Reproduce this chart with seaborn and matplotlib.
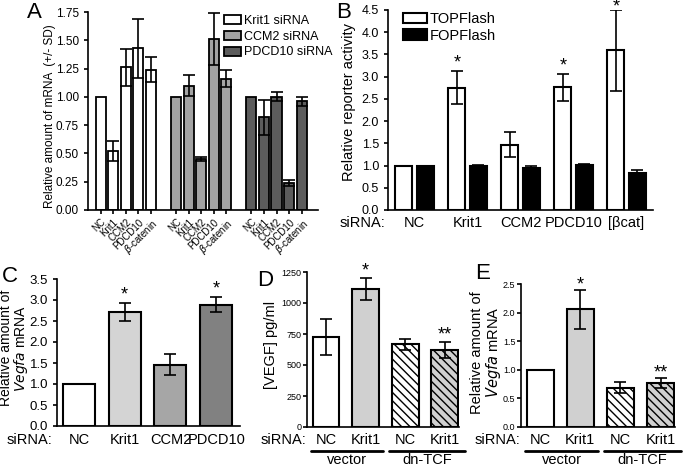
import numpy as np
import pandas as pd
import matplotlib
matplotlib.use('Agg')
import matplotlib.pyplot as plt
import seaborn as sns
from matplotlib.patches import Patch
from matplotlib.ticker import FormatStrFormatter
from matplotlib.transforms import ScaledTranslation

# ---- data ----
# A: relative mRNA after each siRNA
a_targets = ['NC', 'Krit1', 'CCM2', 'PDCD10', r'$\beta$-catenin']
a_groups = ['Krit1 siRNA', 'CCM2 siRNA', 'PDCD10 siRNA']
a_krit1 = [1.00, 0.52, 1.26, 1.43, 1.24]
a_krit1_sd = [0, 0.09, 0.16, 0.26, 0.11]
a_ccm2 = [1.00, 1.10, 0.45, 1.51, 1.16]
a_ccm2_sd = [0, 0.095, 0.02, 0.23, 0.075]
a_pdcd10 = [1.00, 0.82, 1.00, 0.24, 0.96]
a_pdcd10_sd = [0, 0.155, 0.04, 0.025, 0.04]
a_colors = ['white', '#a3a3a3', '#5c5c5c']

# B: TOPFlash / FOPFlash reporter
b_sirna = ['NC', 'Krit1', 'CCM2', 'PDCD10', '[βcat]']
b_reporters = ['TOPFlash', 'FOPFlash']
b_top = [1.0, 2.75, 1.47, 2.76, 3.59]
b_top_sd = [0, 0.37, 0.28, 0.30, 0.91]
b_fop = [1.0, 1.0, 0.95, 1.01, 0.83]
b_fop_sd = [0, 0.02, 0.03, 0.03, 0.06]
b_marks = ['', '*', '', '*', '*']

# C: Vegfa mRNA
c_sirna = ['NC', 'Krit1', 'CCM2', 'PDCD10']
c_vals = [1.0, 2.71, 1.46, 2.89]
c_sd = [0, 0.21, 0.25, 0.17]
c_colors = ['white', '#d4d4d4', '#a6a6a6', '#818181']
c_marks = ['', '*', '', '*']

# D / E: vector vs dn-TCF
de_sirna = ['NC', 'Krit1', 'NC', 'Krit1']
de_construct = ['vector', 'vector', 'dn-TCF', 'dn-TCF']
d_vals = [725, 1115, 668, 620]
d_sd = [145, 90, 45, 65]
e_vals = [1.0, 2.06, 0.69, 0.77]
e_sd = [0, 0.34, 0.10, 0.08]
de_marks = ['', '*', '', '**']
de_colors = ['white', '#d0d0d0', 'white', '#d0d0d0']
de_hatch = ['', '', '\\\\\\\\', '\\\\\\\\']

# ---- style ----
sns.set_theme(style="ticks")
plt.rcParams['font.family'] = ['Liberation Sans', 'DejaVu Sans']
for k in ['text.color', 'axes.labelcolor', 'xtick.color', 'ytick.color', 'axes.edgecolor']:
    plt.rcParams[k] = 'black'
plt.rcParams['axes.linewidth'] = 1.2
plt.rcParams['xtick.major.width'] = 1.2
plt.rcParams['ytick.major.width'] = 1.2
plt.rcParams['hatch.linewidth'] = 1.0

fig = plt.figure(figsize=(6.83, 4.66), dpi=100)
W, H = 683, 466


def px_axes(left, top, right, bottom):
    return fig.add_axes([left / W, 1 - bottom / H, (right - left) / W, (bottom - top) / H])


def down(ax, px):
    # x in data, y pushed px pixels under the x axis
    return ax.get_xaxis_transform() + ScaledTranslation(0, -px / 100, fig.dpi_scale_trans)


def corner(ax, dx, dy):
    # offset from the lower-left corner of the axes, in pixels
    return ax.transAxes + ScaledTranslation(dx / 100, -dy / 100, fig.dpi_scale_trans)


def add_errorbars(ax, xs, vals, sds):
    xs, vals, sds = np.asarray(xs), np.asarray(vals), np.asarray(sds)
    m = sds > 0
    ax.errorbar(xs[m], vals[m], yerr=sds[m], fmt='none', ecolor='black',
                elinewidth=1.2, capsize=4, capthick=1.2, zorder=5)


def add_marks(ax, xs, vals, sds, marks, off, size=12, cap=None):
    for x, v, s, mk in zip(xs, vals, sds, marks):
        if mk:
            y = v + s + off
            if cap is not None:
                y = min(y, cap)
            ax.text(x, y, mk, ha='center', va='center', fontsize=size, clip_on=False)


def bar_centers(ax):
    return [p.get_x() + p.get_width() / 2 for c in ax.containers for p in c.patches
            if hasattr(p, 'get_width')]


# ================= A =================
axA = px_axes(88, 12, 318, 210)
rows = []
for gi, (g, vals, sds) in enumerate(zip(a_groups, [a_krit1, a_ccm2, a_pdcd10],
                                        [a_krit1_sd, a_ccm2_sd, a_pdcd10_sd])):
    for ti, (t, v, s) in enumerate(zip(a_targets, vals, sds)):
        rows.append({'pos': gi * 6 + ti, 'group': g, 'target': t, 'value': v, 'sd': s})
dfA = pd.DataFrame(rows)
sns.barplot(data=dfA, x='pos', y='value', hue='group', hue_order=a_groups, palette=a_colors,
            native_scale=True, dodge=False, width=0.8, edgecolor='black', linewidth=1.3,
            errorbar=None, legend=False, ax=axA)
add_errorbars(axA, dfA['pos'], dfA['value'], dfA['sd'])
axA.set_xlim(-1.0, 17.3)
axA.set_ylim(0, 1.75)
axA.set_yticks(np.arange(0, 1.76, 0.25))
axA.yaxis.set_major_formatter(FormatStrFormatter('%.2f'))
axA.set_xticks(dfA['pos'])
axA.set_xticklabels(dfA['target'], rotation=45, ha='right', va='top',
                    rotation_mode='anchor', fontsize=7)
axA.tick_params(axis='y', labelsize=8.5, length=3)
axA.tick_params(axis='x', length=3, pad=2)
axA.set_xlabel('')
axA.set_ylabel('Relative amount of mRNA  (+/- SD)', fontsize=8.5)
axA.yaxis.set_label_coords(-0.139, 0.475)
hA = [Patch(facecolor=c, edgecolor='black', linewidth=1.3) for c in a_colors]
axA.legend(hA, a_groups, loc='upper left', bbox_to_anchor=(0.59, 0.985), frameon=False,
           fontsize=9, handlelength=1.4, handleheight=0.75, handletextpad=0.2,
           labelspacing=0.3, borderpad=0, borderaxespad=0)
sns.despine(ax=axA)

# ================= B =================
axB = px_axes(388, 10, 653, 210)
dfB = pd.DataFrame({'siRNA': b_sirna * 2,
                    'reporter': [b_reporters[0]] * 5 + [b_reporters[1]] * 5,
                    'value': b_top + b_fop,
                    'sd': b_top_sd + b_fop_sd})
sns.barplot(data=dfB, x='siRNA', y='value', hue='reporter', hue_order=b_reporters,
            palette=['white', 'black'], width=0.8, gap=0.2, edgecolor='black', linewidth=1.5,
            errorbar=None, legend=False, ax=axB)
xb = bar_centers(axB)
add_errorbars(axB, xb, b_top + b_fop, b_top_sd + b_fop_sd)
add_marks(axB, xb[:5], b_top, b_top_sd, b_marks, 0.18, size=13, cap=4.56)
axB.set_xlim(-0.5, 4.5)
axB.set_ylim(0, 4.5)
axB.set_yticks(np.arange(0, 4.51, 0.5))
axB.yaxis.set_major_formatter(FormatStrFormatter('%.1f'))
axB.tick_params(axis='y', labelsize=9, length=3)
axB.tick_params(axis='x', labelsize=10.5, length=0, pad=4)
axB.set_xlabel('')
axB.set_ylabel('Relative reporter activity', fontsize=10.5)
axB.yaxis.set_label_coords(-0.121, 0.54)
axB.text(0, 0, 'siRNA:', transform=corner(axB, -3, 13), ha='right', va='center', fontsize=10.5)
hB = [Patch(facecolor=c, edgecolor='black', linewidth=1.5) for c in ['white', 'black']]
axB.legend(hB, b_reporters, loc='upper left', bbox_to_anchor=(0.055, 0.99), frameon=False,
           fontsize=10.5, handlelength=1.7, handleheight=0.75, handletextpad=0.15,
           labelspacing=0.2, borderpad=0, borderaxespad=0)
sns.despine(ax=axB)

# ================= C =================
axC = px_axes(57, 279, 240, 426)
dfC = pd.DataFrame({'siRNA': c_sirna, 'value': c_vals})
sns.barplot(data=dfC, x='siRNA', y='value', hue='siRNA', palette=c_colors, width=0.7,
            edgecolor='black', linewidth=1.5, errorbar=None, legend=False, ax=axC)
xc = bar_centers(axC)
add_errorbars(axC, xc, c_vals, c_sd)
add_marks(axC, xc, c_vals, c_sd, c_marks, 0.2, size=13)
axC.set_xlim(-0.48, 3.52)
axC.set_ylim(0, 3.5)
axC.set_yticks(np.arange(0, 3.51, 0.5))
axC.yaxis.set_major_formatter(FormatStrFormatter('%.1f'))
axC.tick_params(axis='y', labelsize=9.5, length=3)
axC.tick_params(axis='x', labelsize=10.5, length=0, pad=5)
axC.set_xlabel('')
axC.set_ylabel('Relative amount of\n$\\it{Vegfa}$ mRNA', fontsize=10, linespacing=0.95)
axC.yaxis.set_label_coords(-0.145, 0.53)
axC.text(0, 0, 'siRNA:', transform=corner(axC, -5, 14), ha='right', va='center', fontsize=10.5)
sns.despine(ax=axC)


# ================= D & E =================
def de_panel(ax, vals, sds, ymax, step, fmt, ylabel, markoff, ylab_xy):
    keys = [f'{c} {s}' for c, s in zip(de_construct, de_sirna)]
    df = pd.DataFrame({'key': keys, 'value': vals})
    sns.barplot(data=df, x='key', y='value', hue='key', palette=de_colors, width=0.68,
                edgecolor='black', linewidth=1.5, errorbar=None, legend=False, ax=ax)
    for cont, hatch in zip(ax.containers, de_hatch):
        for p in cont.patches:
            p.set_hatch(hatch)
    xs = bar_centers(ax)
    add_errorbars(ax, xs, vals, sds)
    add_marks(ax, xs, vals, sds, de_marks, markoff, size=13)
    ax.set_xlim(-0.48, 3.36)
    ax.set_ylim(0, ymax)
    ax.set_yticks(np.arange(0, ymax + step / 2, step))
    ax.yaxis.set_major_formatter(FormatStrFormatter(fmt))
    ax.tick_params(axis='y', labelsize=6.5, length=3, pad=1)
    ax.set_xticks(range(4))
    ax.set_xticklabels(de_sirna)
    ax.tick_params(axis='x', labelsize=10.5, length=0, pad=4)
    ax.set_xlabel('')
    ax.set_ylabel(ylabel, fontsize=10.5, linespacing=1.0)
    ax.yaxis.set_label_coords(*ylab_xy)
    ax.text(0, 0, 'siRNA:', transform=corner(ax, -1, 13), ha='right', va='center',
            fontsize=10.5)
    for x0, x1, lab in [(-0.38, 1.45, 'vector'), (1.6, 3.5, 'dn-TCF')]:
        ax.plot([x0, x1], [0, 0], color='black', lw=2, transform=down(ax, 24), clip_on=False)
        ax.text((x0 + x1) / 2, 0, lab, transform=down(ax, 33), ha='center', va='center',
                fontsize=10.5)
    sns.despine(ax=ax)


axD = px_axes(307, 272, 459, 427)
de_panel(axD, d_vals, d_sd, 1250, 250, '%d', '[VEGF] pg/ml', 55, (-0.19, 0.53))
axE = px_axes(521, 284, 675, 427)
de_panel(axE, e_vals, e_sd, 2.5, 0.5, '%.1f', 'Relative amount of\n$\\it{Vegfa}$ mRNA',
         0.09, (-0.117, 0.52))

# panel letters
for lab, x, y in [('A', 27, 2), ('B', 336, 2), ('C', 2, 266), ('D', 257, 270), ('E', 475, 263)]:
    fig.text(x / W, 1 - y / H, lab, fontsize=16, ha='left', va='top')

fig.savefig('out.png', dpi=100)
